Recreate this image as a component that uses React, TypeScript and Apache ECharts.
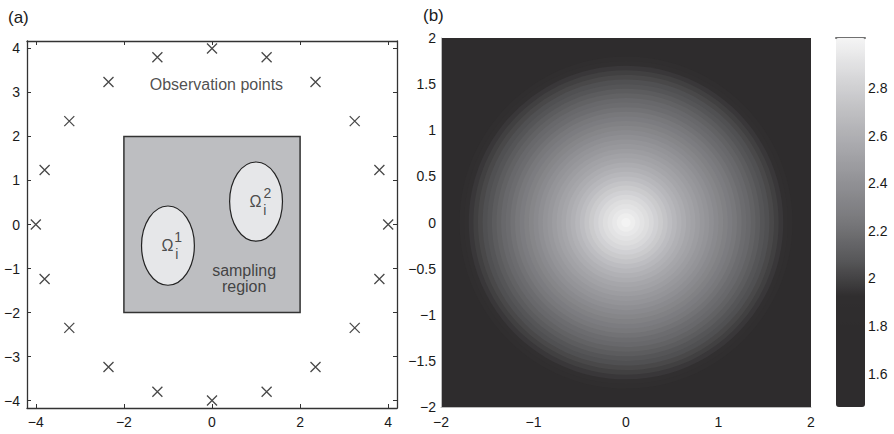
import React, { useEffect, useRef } from "react";
import * as echarts from "echarts";

// ---------- Panel (a) data ----------
const OBS_X = [0, 1.24, 2.35, 3.24, 3.8, 4, 3.8, 3.24, 2.35, 1.24, 0, -1.24, -2.35, -3.24, -3.8, -4, -3.8, -3.24, -2.35, -1.24];
const OBS_Y = [4, 3.8, 3.24, 2.35, 1.24, 0, -1.24, -2.35, -3.24, -3.8, -4, -3.8, -3.24, -2.35, -1.24, 0, 1.24, 2.35, 3.24, 3.8];
const REGION = [-2, -2, 2, 2]; // x0, y0, x1, y1
const ELLIPSE_CX = [-1.0, 1.0];
const ELLIPSE_CY = [-0.48, 0.52];
const ELLIPSE_RX = [0.6, 0.6];
const ELLIPSE_RY = [0.9, 0.9];
const A_XTICKS = [-4, -2, 0, 2, 4];
const A_YTICKS = [-4, -3, -2, -1, 0, 1, 2, 3, 4];
const ANN_TEXT = ["Observation points", "sampling", "region", "Ω", "1", "i", "Ω", "2", "i"];
const ANN_X = [0.1, 0.73, 0.73, -1.01, -0.77, -0.8, 0.99, 1.26, 1.2];
const ANN_Y = [3.18, -1.04, -1.4, -0.47, -0.28, -0.66, 0.52, 0.72, 0.34];
const ANN_KIND = ["main", "main", "main", "omega", "small", "small", "omega", "small", "small"];

// ---------- Panel (b) data ----------
const B_CENTER = [0, 0];
const PROFILE_R = [0.05, 0.1, 0.15, 0.2, 0.25, 0.3, 0.35, 0.4, 0.45, 0.5, 0.55, 0.6, 0.65, 0.7, 0.75, 0.8, 0.85, 0.9, 0.95, 1.0, 1.05, 1.1, 1.15, 1.2, 1.25, 1.3, 1.35, 1.4, 1.45, 1.5, 1.55, 1.6, 1.65, 1.7, 1.75, 1.8];
const PROFILE_V = [3.0, 2.97, 2.94, 2.91, 2.88, 2.85, 2.81, 2.77, 2.73, 2.69, 2.65, 2.61, 2.58, 2.54, 2.51, 2.48, 2.45, 2.42, 2.39, 2.36, 2.33, 2.3, 2.27, 2.24, 2.21, 2.18, 2.16, 2.13, 2.1, 2.07, 2.05, 2.02, 1.99, 1.96, 1.93, 1.9];
const B_XTICKS = [-2, -1, 0, 1, 2];
const CBAR_MIN = 1.46;
const CBAR_MAX = 3.01;
const CBAR_TICKS = [1.6, 1.8, 2, 2.2, 2.4, 2.6, 2.8];
const CBAR_COLORS = ["#2e2c2d", "#2e2c2d", "#2e2c2d", "#302e2f", "#58585a", "#77777a", "#8f8f93", "#a7a7ab", "#bfbfc2", "#d9d9db", "#f5f5f5"];

const FONT = "Liberation Sans, Arial, Helvetica, sans-serif";
const minus = (v: number) => String(v).replace("-", "\u2212");

export default function App() {
  const ref = useRef<HTMLDivElement>(null);
  useEffect(() => {
    if (!ref.current) return;
    const chart = echarts.init(ref.current, undefined, { renderer: "svg" });

    const tickLabel = { color: "#1a1a1a", fontSize: 14, fontFamily: FONT };
    const aAxisLine = { show: true, onZero: false, lineStyle: { color: "#333", width: 1.3 } };
    const aTick = (vals: number[]) => ({ show: true, inside: true, length: 4, customValues: vals, lineStyle: { color: "#333" } });

    const annSize: Record<string, number> = { main: 16, omega: 16, small: 14 };

    const option: any = {
      animation: false,
      backgroundColor: "#fff",
      title: [
        { text: "(a)", left: 8, top: 9, padding: 0, textStyle: { fontSize: 17, fontWeight: "normal", color: "#1a1a1a", fontFamily: FONT } },
        { text: "(b)", left: 423, top: 7, padding: 0, textStyle: { fontSize: 17, fontWeight: "normal", color: "#1a1a1a", fontFamily: FONT } },
      ],
      grid: [
        { left: 27, top: 41, width: 370, height: 367 },
        { left: 441, top: 38, width: 370, height: 369, show: true, backgroundColor: "#2e2c2d", borderWidth: 0 },
        { left: 836, top: 38, width: 29, height: 369 },
      ],
      xAxis: [
        {
          gridIndex: 0, type: "value", position: "bottom", min: -4.2, max: 4.2,
          axisLine: aAxisLine, splitLine: { show: false }, axisTick: aTick(A_XTICKS),
          axisLabel: { show: true, customValues: A_XTICKS, formatter: minus, margin: 7, ...tickLabel },
        },
        {
          gridIndex: 0, type: "value", position: "top", min: -4.2, max: 4.2,
          axisLine: aAxisLine, splitLine: { show: false }, axisTick: aTick(A_XTICKS),
          axisLabel: { show: false },
        },
        {
          gridIndex: 1, type: "value", position: "bottom", min: -2, max: 2, interval: 1,
          axisLine: { show: true, onZero: false, lineStyle: { color: "#bbb", width: 1 } }, splitLine: { show: false },
          axisTick: { show: false },
          axisLabel: { show: true, customValues: B_XTICKS, formatter: minus, margin: 8, ...tickLabel },
        },
        {
          gridIndex: 2, type: "value", position: "top", min: 0, max: 1,
          axisLine: { show: true, onZero: false, lineStyle: { color: "#707070", width: 2 } },
          axisTick: { show: false }, axisLabel: { show: false }, splitLine: { show: false },
        },
      ],
      yAxis: [
        {
          gridIndex: 0, type: "value", position: "left", min: -4.17, max: 4.17,
          axisLine: aAxisLine, splitLine: { show: false }, axisTick: aTick(A_YTICKS),
          axisLabel: { show: true, customValues: A_YTICKS, formatter: minus, margin: 7, ...tickLabel },
        },
        {
          gridIndex: 0, type: "value", position: "right", min: -4.17, max: 4.17,
          axisLine: aAxisLine, splitLine: { show: false }, axisTick: aTick(A_YTICKS),
          axisLabel: { show: false },
        },
        {
          gridIndex: 1, type: "value", position: "left", min: -2, max: 2, interval: 0.5,
          axisLine: { show: true, onZero: false, lineStyle: { color: "#bbb", width: 1 } }, splitLine: { show: false },
          axisTick: { show: false },
          axisLabel: { show: true, formatter: minus, margin: 5, ...tickLabel },
        },
        {
          gridIndex: 2, type: "value", position: "right", min: CBAR_MIN, max: CBAR_MAX,
          axisLine: { show: false, onZero: false }, axisTick: { show: false }, splitLine: { show: false },
          axisLabel: { show: true, customValues: CBAR_TICKS, margin: 3, ...tickLabel },
        },
      ],
      visualMap: [
        {
          type: "continuous", min: CBAR_MIN, max: CBAR_MAX, seriesIndex: [4], dimension: 1,
          calculable: false, hoverLink: false, orient: "vertical",
          left: 836, top: 38, itemWidth: 29, itemHeight: 369, padding: 0,
          inRange: { color: CBAR_COLORS },
          textStyle: { color: "transparent" },
        },
      ],
      series: [
        {
          type: "custom", xAxisIndex: 0, yAxisIndex: 0, silent: true, z: 1,
          data: [REGION],
          renderItem: (params: any, api: any) => {
            const p0 = api.coord([api.value(0), api.value(1)]);
            const p1 = api.coord([api.value(2), api.value(3)]);
            return {
              type: "rect",
              shape: { x: p0[0], y: p1[1], width: p1[0] - p0[0], height: p0[1] - p1[1] },
              style: { fill: "#bdbec1", stroke: "#333", lineWidth: 1.5 },
            };
          },
        },
        {
          type: "custom", xAxisIndex: 0, yAxisIndex: 0, silent: true, z: 2,
          data: ELLIPSE_CX.map((cx, i) => [cx, ELLIPSE_CY[i], ELLIPSE_RX[i], ELLIPSE_RY[i]]),
          renderItem: (params: any, api: any) => {
            const c = api.coord([api.value(0), api.value(1)]);
            const s = api.size([api.value(2), api.value(3)]);
            return {
              type: "ellipse",
              shape: { cx: c[0], cy: c[1], rx: s[0], ry: s[1] },
              style: { fill: "#e6e7e9", stroke: "#222", lineWidth: 1.2 },
            };
          },
        },
        {
          type: "scatter", xAxisIndex: 0, yAxisIndex: 0, silent: true, z: 3,
          symbol: "path://M0,0L10,10M10,0L0,10",
          symbolSize: 10,
          itemStyle: { color: "transparent", borderColor: "#1a1a1a", borderWidth: 1.3 },
          data: OBS_X.map((x, i) => [x, OBS_Y[i]]),
        },
        {
          type: "scatter", xAxisIndex: 0, yAxisIndex: 0, silent: true, z: 4,
          symbolSize: 0,
          data: ANN_TEXT.map((t, i) => ({
            value: [ANN_X[i], ANN_Y[i]],
            name: t,
            label: {
              show: true, position: "inside", formatter: t,
              color: "#222", fontFamily: FONT, fontSize: annSize[ANN_KIND[i]],
            },
          })),
        },
        {
          type: "custom", xAxisIndex: 2, yAxisIndex: 2, silent: true, z: 2,
          data: PROFILE_R.map((r, i) => [r, PROFILE_V[i]]).reverse(),
          renderItem: (params: any, api: any) => {
            const c = api.coord(B_CENTER);
            const s = api.size([api.value(0), api.value(0)]);
            return {
              type: "ellipse",
              shape: { cx: c[0], cy: c[1], rx: s[0], ry: s[1] },
              style: { fill: api.visual("color"), stroke: null },
            };
          },
        },
      ],
    };

    chart.setOption(option);
    return () => chart.dispose();
  }, []);

  return (
    <div
      ref={ref}
      style={{ position: "fixed", left: 0, top: 0, width: 894, height: 434, background: "#fff" }}
    />
  );
}
